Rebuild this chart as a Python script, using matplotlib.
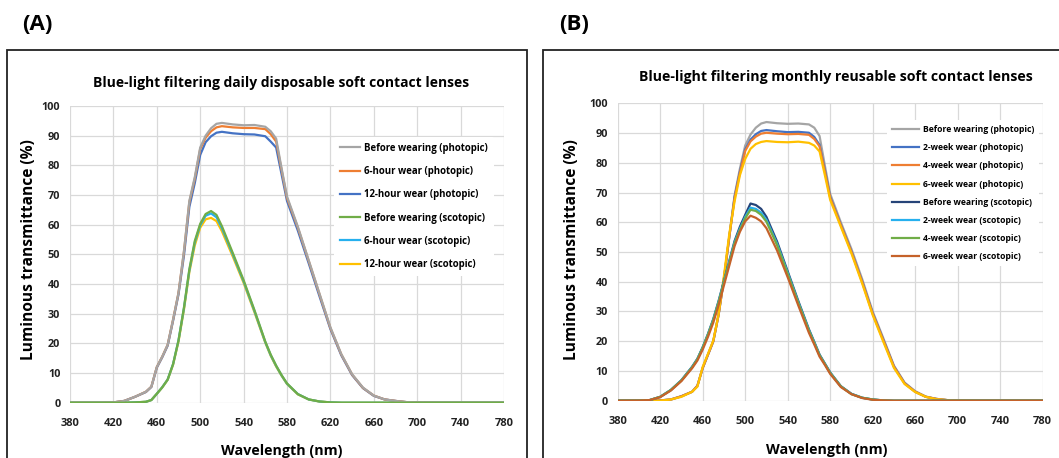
import matplotlib
matplotlib.use("Agg")
import matplotlib.pyplot as plt
from matplotlib.patches import Rectangle

plt.rcParams['font.family'] = ['Open Sans', 'DejaVu Sans']
plt.rcParams['font.weight'] = 'bold'

# ---------------- data ----------------
wavelength = [380, 400, 410, 420, 430, 440, 450, 455, 460, 465, 470, 475, 480, 485, 490, 495,
              500, 505, 510, 515, 520, 530, 540, 550, 560, 565, 570, 575, 580, 590, 600, 610,
              620, 630, 640, 650, 660, 670, 680, 690, 700, 720, 780]

# Panel A: daily disposable
a_before_phot = [0, 0, 0, 0.1, 0.6, 2.0, 3.7, 5.4, 12.0, 15.5, 19.5, 28.0, 37.0, 51.0, 68.0, 76.0,
                 86.0, 90.0, 92.5, 94.0, 94.3, 93.8, 93.5, 93.6, 93.0, 91.5, 89.0, 79.0, 69.5, 59.3, 48.0, 36.7,
                 25.4, 16.4, 9.6, 5.1, 2.4, 1.1, 0.6, 0.2, 0.1, 0, 0]
a_6h_phot = [0, 0, 0, 0.1, 0.6, 2.0, 3.7, 5.4, 12.0, 15.5, 19.5, 28.0, 37.0, 50.8, 67.6, 75.5,
             85.5, 89.3, 91.5, 92.8, 93.2, 92.8, 92.6, 92.6, 92.2, 90.5, 88.0, 78.5, 69.0, 59.0, 47.8, 36.5,
             25.2, 16.3, 9.5, 5.0, 2.4, 1.1, 0.6, 0.2, 0.1, 0, 0]
a_12h_phot = [0, 0, 0, 0.1, 0.6, 2.0, 3.6, 5.3, 11.8, 15.3, 19.2, 27.6, 36.5, 49.5, 66.0, 74.0,
              83.5, 87.8, 89.8, 91.0, 91.3, 90.8, 90.5, 90.4, 89.8, 88.0, 86.0, 77.0, 68.0, 58.0, 47.0, 35.8,
              24.8, 16.0, 9.3, 4.9, 2.3, 1.1, 0.6, 0.2, 0.1, 0, 0]
a_before_scot = [0, 0, 0, 0, 0, 0.1, 0.3, 0.9, 3.0, 5.2, 7.8, 13.0, 21.0, 32.0, 45.0, 54.5,
                 60.3, 63.6, 64.6, 63.3, 59.5, 50.5, 41.3, 31.2, 20.6, 16.2, 12.5, 9.3, 6.5, 2.9, 1.1, 0.4,
                 0.1, 0, 0, 0, 0, 0, 0, 0, 0, 0, 0]
a_6h_scot = [0, 0, 0, 0, 0, 0.1, 0.3, 0.9, 3.0, 5.2, 7.8, 13.0, 21.0, 31.8, 44.6, 54.0,
             59.8, 63.0, 63.8, 62.5, 58.8, 50.0, 40.9, 30.9, 20.4, 16.0, 12.4, 9.2, 6.4, 2.9, 1.1, 0.4,
             0.1, 0, 0, 0, 0, 0, 0, 0, 0, 0, 0]
a_12h_scot = [0, 0, 0, 0, 0, 0.1, 0.3, 0.9, 3.0, 5.1, 7.7, 12.8, 20.6, 31.3, 44.0, 53.0,
              59.0, 61.8, 62.3, 61.2, 57.8, 49.3, 40.4, 30.5, 20.2, 15.8, 12.2, 9.1, 6.3, 2.8, 1.1, 0.4,
              0.1, 0, 0, 0, 0, 0, 0, 0, 0, 0, 0]

# Panel B: monthly reusable
b_before_phot = [0, 0, 0, 0.1, 0.4, 1.5, 3.0, 5.0, 11.0, 15.5, 20.0, 29.0, 41.0, 55.0, 69.0, 78.0,
                 85.8, 89.5, 91.8, 93.2, 93.7, 93.3, 93.1, 93.2, 92.9, 91.8, 89.0, 79.0, 69.5, 60.0, 51.0, 41.0,
                 30.0, 21.0, 11.8, 6.1, 3.2, 1.4, 0.6, 0.2, 0.1, 0, 0]
b_2w_phot = [0, 0, 0, 0.1, 0.4, 1.5, 3.0, 5.0, 11.0, 15.5, 20.0, 29.0, 41.0, 55.0, 68.5, 77.0,
             84.5, 87.8, 89.6, 90.7, 91.0, 90.6, 90.3, 90.4, 90.1, 88.7, 86.0, 77.5, 68.5, 59.2, 50.2, 40.2,
             29.4, 20.5, 11.5, 5.9, 3.0, 1.3, 0.6, 0.2, 0.1, 0, 0]
b_4w_phot = [0, 0, 0, 0.1, 0.4, 1.5, 3.0, 5.0, 11.0, 15.5, 20.0, 29.0, 41.0, 55.0, 68.0, 76.5,
             84.0, 87.2, 88.8, 89.8, 90.1, 89.8, 89.6, 89.7, 89.4, 88.0, 85.5, 77.0, 68.2, 59.0, 50.0, 40.0,
             29.2, 20.3, 11.4, 5.8, 3.0, 1.3, 0.6, 0.2, 0.1, 0, 0]
b_6w_phot = [0, 0, 0, 0, 0.4, 1.3, 3.0, 4.7, 11.4, 15.8, 20.3, 29.2, 42.0, 56.0, 67.0, 75.8,
             81.3, 84.7, 86.3, 87.0, 87.3, 87.0, 86.9, 87.1, 86.7, 85.8, 83.8, 75.8, 67.5, 58.5, 49.5, 39.5,
             28.8, 19.8, 11.0, 5.6, 2.9, 1.3, 0.5, 0.2, 0.1, 0, 0]
b_before_scot = [0, 0.05, 0.2, 1.3, 3.6, 6.9, 11.4, 14.1, 18.0, 22.5, 27.5, 33.6, 40.3, 47.0, 53.7, 58.5,
                 62.5, 66.3, 65.8, 64.5, 61.8, 53.5, 43.5, 33.5, 24.0, 19.8, 15.5, 12.5, 9.5, 4.9, 2.3, 1.0,
                 0.4, 0.1, 0, 0, 0, 0, 0, 0, 0, 0, 0]
b_2w_scot = [0, 0.05, 0.2, 1.3, 3.6, 6.9, 11.3, 14.0, 17.9, 22.3, 27.3, 33.3, 40.0, 46.6, 53.2, 57.8,
             61.8, 64.9, 64.5, 63.2, 60.8, 52.8, 43.0, 33.1, 23.7, 19.6, 15.3, 12.4, 9.4, 4.8, 2.3, 1.0,
             0.4, 0.1, 0, 0, 0, 0, 0, 0, 0, 0, 0]
b_4w_scot = [0, 0.05, 0.2, 1.3, 3.6, 6.8, 11.2, 13.9, 17.8, 22.2, 27.1, 33.1, 39.8, 46.3, 52.9, 57.4,
             61.3, 64.2, 63.8, 62.5, 60.2, 52.3, 42.6, 32.8, 23.5, 19.4, 15.2, 12.3, 9.3, 4.8, 2.2, 1.0,
             0.4, 0.1, 0, 0, 0, 0, 0, 0, 0, 0, 0]
b_6w_scot = [0, 0.05, 0.2, 1.2, 3.4, 6.6, 10.9, 13.5, 17.2, 21.5, 26.3, 32.2, 38.8, 45.4, 52.0, 56.8,
             60.3, 62.2, 61.5, 60.3, 58.0, 50.5, 41.5, 32.0, 22.8, 18.9, 14.8, 12.0, 9.0, 4.6, 2.2, 0.9,
             0.3, 0.1, 0, 0, 0, 0, 0, 0, 0, 0, 0]

x_ticks = [380, 420, 460, 500, 540, 580, 620, 660, 700, 740, 780]
y_ticks = [0, 10, 20, 30, 40, 50, 60, 70, 80, 90, 100]

labels_a = ["Before wearing (photopic)", "6-hour wear (photopic)", "12-hour wear (photopic)",
            "Before wearing (scotopic)", "6-hour wear (scotopic)", "12-hour wear (scotopic)"]
labels_b = ["Before wearing (photopic)", "2-week wear (photopic)", "4-week wear (photopic)",
            "6-week wear (photopic)", "Before wearing (scotopic)", "2-week wear (scotopic)",
            "4-week wear (scotopic)", "6-week wear (scotopic)"]

# ---------------- figure ----------------
W, H = 1059, 458
fig = plt.figure(figsize=(W / 100, H / 100), dpi=100)
fig.patch.set_facecolor('white')


def px_axes(x0, y_top, x1, y_bot):
    return fig.add_axes([x0 / W, 1 - y_bot / H, (x1 - x0) / W, (y_bot - y_top) / H])


def style(ax):
    ax.set_xlim(380, 780)
    ax.set_ylim(0, 100)
    ax.set_xticks(x_ticks)
    ax.set_yticks(y_ticks)
    ax.grid(True, color='#D9D9D9', lw=0.9)
    ax.set_axisbelow(True)
    for s in ax.spines.values():
        s.set_visible(False)
    ax.tick_params(axis='x', length=0, pad=11, labelsize=8, colors='#222222')
    ax.tick_params(axis='y', length=0, pad=7, labelsize=7.8, colors='#222222')
    for t in ax.get_xticklabels() + ax.get_yticklabels():
        t.set_fontweight('bold')


# panel boxes
fig.add_artist(Rectangle((7 / W, -0.1), (527 - 7) / W, 1.1 - 50 / H, transform=fig.transFigure,
                         fill=False, ec='#222222', lw=1.3, clip_on=False))
fig.add_artist(Rectangle((543 / W, -0.1), 0.5, 1.1 - 50 / H, transform=fig.transFigure,
                         fill=False, ec='#222222', lw=1.3, clip_on=False))

fig.text(22 / W, 1 - 24 / H, "(A)", fontsize=16, fontweight='bold', va='center', ha='left')
fig.text(559 / W, 1 - 24 / H, "(B)", fontsize=16, fontweight='bold', va='center', ha='left')

lw = 1.6

# ---- Panel A ----
axA = px_axes(70, 106, 504, 402.7)
style(axA)
hA = []
hA.append(axA.plot(wavelength, a_before_phot, color='#A5A5A5', lw=lw, zorder=5)[0])
hA.append(axA.plot(wavelength, a_6h_phot, color='#EE7E32', lw=lw, zorder=4)[0])
hA.append(axA.plot(wavelength, a_12h_phot, color='#4472C4', lw=lw, zorder=3)[0])
hA.append(axA.plot(wavelength, a_before_scot, color='#70AD47', lw=lw, zorder=5)[0])
hA.append(axA.plot(wavelength, a_6h_scot, color='#26B0EE', lw=lw, zorder=4)[0])
hA.append(axA.plot(wavelength, a_12h_scot, color='#FFC000', lw=lw, zorder=3)[0])
axA.set_title("Blue-light filtering daily disposable soft contact lenses", fontsize=10,
              fontweight='bold', x=0.486, y=1.0775, va='center', pad=0)
axA.set_ylabel("Luminous transmittance (%)", fontsize=11.2, fontweight='bold', va='center')
axA.yaxis.set_label_coords(-0.094, 0.515)
axA.set_xlabel("Wavelength (nm)", fontsize=10.3, fontweight='bold', va='center')
axA.xaxis.set_label_coords(0.488, -0.163)
legA = axA.legend(hA, labels_a, loc='upper left', bbox_to_anchor=(334 / W, 1 - 137 / H),
                  bbox_transform=fig.transFigure, frameon=True, facecolor='white', edgecolor='none',
                  framealpha=1, fontsize=6.9, handlelength=2.14, handletextpad=0.4,
                  labelspacing=1.28, borderpad=0.6, borderaxespad=0)
for t in legA.get_texts():
    t.set_fontweight('bold')
legA.set_zorder(10)

# ---- Panel B ----
axB = px_axes(617.7, 103.3, 1042.7, 400.7)
style(axB)
hB = []
hB.append(axB.plot(wavelength, b_before_phot, color='#A5A5A5', lw=lw, zorder=3)[0])
hB.append(axB.plot(wavelength, b_2w_phot, color='#4472C4', lw=lw, zorder=3)[0])
hB.append(axB.plot(wavelength, b_4w_phot, color='#EE7E32', lw=lw, zorder=3)[0])
hB.append(axB.plot(wavelength, b_6w_phot, color='#FFC000', lw=lw, zorder=4)[0])
hB.append(axB.plot(wavelength, b_before_scot, color='#264478', lw=lw, zorder=5)[0])
hB.append(axB.plot(wavelength, b_2w_scot, color='#26B0EE', lw=lw, zorder=5)[0])
hB.append(axB.plot(wavelength, b_4w_scot, color='#70AD47', lw=lw, zorder=5)[0])
hB.append(axB.plot(wavelength, b_6w_scot, color='#C5622A', lw=lw, zorder=5)[0])
axB.set_title("Blue-light filtering monthly reusable soft contact lenses", fontsize=10.2,
              fontweight='bold', x=0.5137, y=1.088, va='center', pad=0)
axB.set_ylabel("Luminous transmittance (%)", fontsize=11.2, fontweight='bold', va='center')
axB.yaxis.set_label_coords(-0.1075, 0.507)
axB.set_xlabel("Wavelength (nm)", fontsize=10.3, fontweight='bold', va='center')
axB.xaxis.set_label_coords(0.4925, -0.166)
legB = axB.legend(hB, labels_b, loc='upper left', bbox_to_anchor=(887 / W, 1 - 120 / H),
                  bbox_transform=fig.transFigure, frameon=True, facecolor='white', edgecolor='none',
                  framealpha=1, fontsize=6.2, handlelength=3.08, handletextpad=0.47,
                  labelspacing=1.06, borderpad=0.6, borderaxespad=0)
for t in legB.get_texts():
    t.set_fontweight('bold')
legB.set_zorder(10)

fig.savefig("out.png", dpi=100)
